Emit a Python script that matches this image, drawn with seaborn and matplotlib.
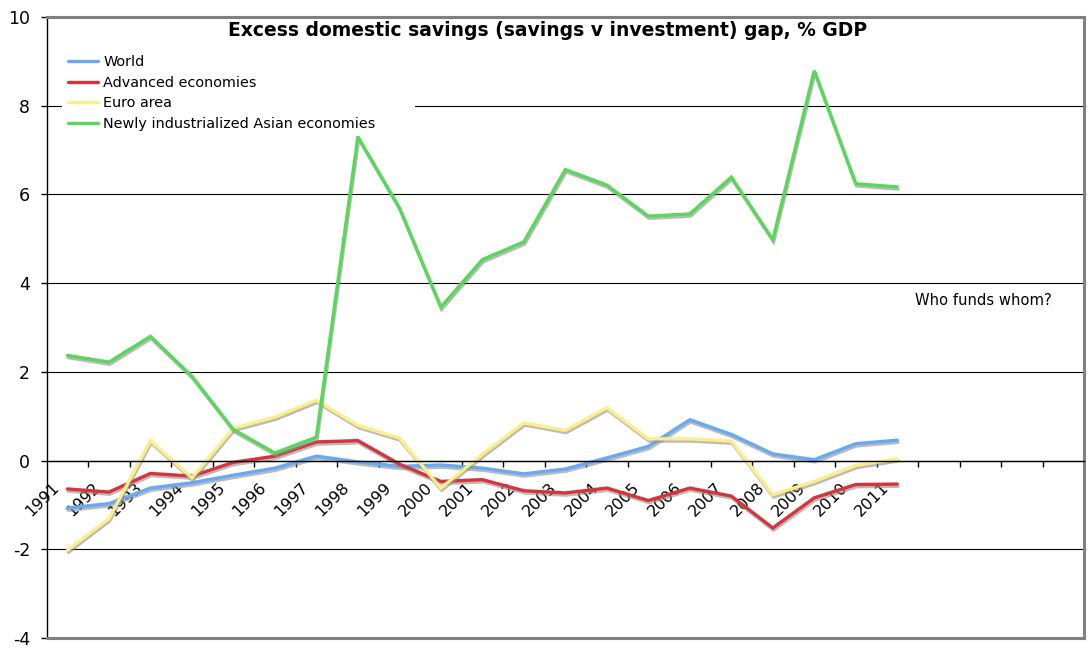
import numpy as np
import pandas as pd
import matplotlib
matplotlib.use("Agg")
import matplotlib.pyplot as plt
import matplotlib.patheffects as pe
from matplotlib.lines import Line2D
from matplotlib.transforms import ScaledTranslation
import seaborn as sns

# ---------------- data ----------------
years = [1991, 1992, 1993, 1994, 1995, 1996, 1997, 1998, 1999, 2000,
         2001, 2002, 2003, 2004, 2005, 2006, 2007, 2008, 2009, 2010, 2011]
axis_slots = 25  # category slots on the x axis (empty ones after 2011)

world = [-1.07, -0.97, -0.62, -0.50, -0.33, -0.17, 0.10, -0.03, -0.13, -0.10,
         -0.17, -0.30, -0.19, 0.06, 0.32, 0.92, 0.59, 0.15, 0.02, 0.38, 0.46]
advanced = [-0.64, -0.71, -0.29, -0.35, -0.04, 0.10, 0.42, 0.45, -0.08, -0.47,
            -0.43, -0.68, -0.73, -0.62, -0.90, -0.62, -0.80, -1.52, -0.84, -0.54, -0.53]
euro = [-2.02, -1.31, 0.45, -0.39, 0.73, 0.98, 1.36, 0.79, 0.51, -0.62,
        0.14, 0.85, 0.68, 1.19, 0.49, 0.49, 0.44, -0.77, -0.47, -0.11, 0.04]
nie = [2.37, 2.22, 2.80, 1.90, 0.70, 0.17, 0.53, 7.30, 5.70, 3.46,
       4.53, 4.93, 6.56, 6.21, 5.51, 5.56, 6.39, 4.98, 8.79, 6.24, 6.17]

series_names = ["World", "Advanced economies", "Euro area",
                "Newly industrialized Asian economies"]
series_values = [world, advanced, euro, nie]
colors = ["#66AAF5", "#D8333B", "#FFEE88", "#58D858"]

y_ticks = [-4, -2, 0, 2, 4, 6, 8, 10]
title = "Excess domestic savings (savings v investment) gap, % GDP"
note = "Who funds whom?"

# ---------------- frame ----------------
rows = []
for name, vals in zip(series_names, series_values):
    for i, (yr, v) in enumerate(zip(years, vals)):
        rows.append({"pos": i, "year": yr, "value": v, "series": name})
df = pd.DataFrame(rows)

sns.set_theme(style="white")
plt.rcParams['font.family'] = ['DejaVu Sans']
plt.rcParams['axes.unicode_minus'] = False
plt.rcParams['text.color'] = 'black'
plt.rcParams['xtick.color'] = 'black'
plt.rcParams['ytick.color'] = 'black'
plt.rcParams['legend.labelcolor'] = 'black'

W, H = 1089, 662
fig = plt.figure(figsize=(W / 100, H / 100), dpi=100)
left_px, right_px, top_px, bot_px = 46.7, 1084, 17, 638
ax = fig.add_axes([left_px / W, 1 - bot_px / H, (right_px - left_px) / W,
                   (bot_px - top_px) / H])

sns.lineplot(data=df, x="pos", y="value", hue="series", hue_order=series_names,
             palette=colors, linewidth=2.4, ax=ax, legend=False, sort=False)
for line in ax.lines:
    line.set_path_effects([pe.SimpleLineShadow(offset=(0.6, -1.6),
                                               shadow_color="#8c8c8c", alpha=0.6),
                           pe.Normal()])
    line.set_solid_joinstyle("miter")

ax.set_xlim(-0.5, axis_slots - 0.5)
ax.set_ylim(-4, 10)
ax.set_xlabel("")
ax.set_ylabel("")

# grid
ax.set_yticks(y_ticks)
ax.yaxis.grid(True, color="black", linewidth=0.8)
ax.xaxis.grid(False)
ax.set_axisbelow(True)

# spines
for s in ["top", "right"]:
    ax.spines[s].set_color("#808080")
    ax.spines[s].set_linewidth(2.2)
ax.spines["left"].set_color("black")
ax.spines["left"].set_linewidth(1.0)
ax.spines["bottom"].set_position(("data", 0))
ax.spines["bottom"].set_color("black")
ax.spines["bottom"].set_linewidth(1.0)
ax.axhline(-4, color="#808080", linewidth=2.2, clip_on=False, zorder=3)

# ticks
ax.set_xticks(range(len(years)))
ax.set_xticklabels([str(y) for y in years])
ax.set_xticks(np.arange(0.5, axis_slots, 1.0), minor=True)
ax.tick_params(axis="x", which="major", bottom=True, length=0, pad=14,
               labelsize=11.5, labelcolor="black")
ax.tick_params(axis="x", which="minor", bottom=True, length=4, width=1,
               color="black", direction="out")
ax.tick_params(axis="y", which="major", left=True, length=4, width=1,
               color="black", direction="out", pad=8, labelsize=12.5,
               labelcolor="black")
offset = ScaledTranslation(-16 / 100, 0, fig.dpi_scale_trans)
for lab in ax.get_xticklabels():
    lab.set_rotation(45)
    lab.set_ha("right")
    lab.set_va("top")
    lab.set_rotation_mode("anchor")
    lab.set_transform(lab.get_transform() + offset)

# legend
handles = [Line2D([0], [0], color=c, linewidth=2.4) for c in colors]
leg = ax.legend(handles, series_names, loc="upper left",
                bbox_to_anchor=(0.0147, 0.80, 0.340, 0.148), mode="expand",
                borderaxespad=0, frameon=True, facecolor="white",
                edgecolor="none", framealpha=1, fancybox=False, fontsize=10.4,
                handlelength=2.1, handletextpad=0.35, labelspacing=0.45,
                borderpad=0.4, labelcolor="black")
leg.set_zorder(5)

# texts
fig.text(548 / W, 1 - 30 / H, title, ha="center", va="center",
         fontweight="bold", fontsize=13.5, color="black")
ax.text(0.837, 0.544, note, transform=ax.transAxes, ha="left", va="center",
        fontsize=10.6, color="black")

fig.savefig("out.png", dpi=100, facecolor="white")
